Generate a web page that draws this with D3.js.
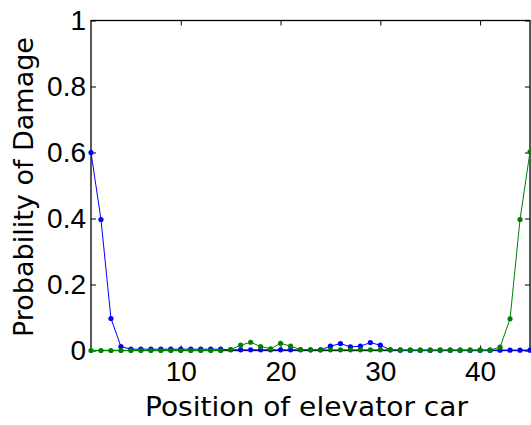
<!DOCTYPE html>
<html>
<head>
<meta charset="utf-8">
<script src="https://cdn.jsdelivr.net/npm/d3@7"></script>
<style>
  body { margin: 0; background: #fff; }
  svg text { font-family: "Liberation Sans", "DejaVu Sans", sans-serif; fill: #000; }
  svg text.label { font-family: "DejaVu Sans", sans-serif; }
</style>
</head>
<body>
<svg id="chart" width="531" height="425"></svg>
<script>
const positions = [1,2,3,4,5,6,7,8,9,10,11,12,13,14,15,16,17,18,19,20,21,22,23,
  24,25,26,27,28,29,30,31,32,33,34,35,36,37,38,39,40,41,42,43,44,45];

const blueVals = [0.600,0.397,0.097,0.012,0.004,0.004,0.004,0.004,0.004,0.004,
  0.004,0.004,0.004,0.004,0.002,0.002,0.002,0.002,0.002,0.002,0.002,0.002,0.002,
  0.002,0.013,0.021,0.011,0.013,0.024,0.016,0.002,0.001,0.001,0.001,0.001,0.001,
  0.001,0.001,0.001,0.001,0.001,0.001,0.001,0.001,0.001];

const greenVals = [0,0,0,0,0,0,0,0,0,0,0,0,0,0,0.003,0.016,0.025,0.012,0.005,
  0.022,0.013,0.003,0.002,0.002,0.002,0.002,0.002,0.002,0.002,0.002,0.002,0.002,
  0.001,0.001,0.001,0.001,0.001,0.001,0.001,0.001,0.001,0.010,0.096,0.397,0.602];

const xTicks = [10, 20, 30, 40];
const yTicks = [0, 0.2, 0.4, 0.6, 0.8, 1];

const margin = {top: 20.5, right: 1, bottom: 74.5, left: 91};
const width = 531 - margin.left - margin.right;
const height = 425 - margin.top - margin.bottom;

const svg = d3.select('#chart');
const chart = svg.append('g')
  .attr('transform', `translate(${margin.left}, ${margin.top})`);

const xScale = d3.scaleLinear().domain([1, 45]).range([0, width]);
const yScale = d3.scaleLinear().domain([0, 1]).range([height, 0]);

// axes, matlab style: ticks point inward
chart.append('g')
  .attr('transform', `translate(0, ${height})`)
  .call(d3.axisBottom(xScale).tickValues(xTicks).tickSize(-5).tickPadding(11))
  .call(g => g.select('.domain').remove())
  .selectAll('text').style('font-size', '28px');

chart.append('g')
  .call(d3.axisTop(xScale).tickValues(xTicks).tickSize(-5).tickFormat(''))
  .call(g => g.select('.domain').remove());

chart.append('g')
  .call(d3.axisLeft(yScale).tickValues(yTicks).tickSize(-5).tickPadding(5)
    .tickFormat(d3.format('~g')))
  .call(g => g.select('.domain').remove())
  .selectAll('text').style('font-size', '28px');

chart.append('g')
  .attr('transform', `translate(${width}, 0)`)
  .call(d3.axisRight(yScale).tickValues(yTicks).tickSize(-5).tickFormat(''))
  .call(g => g.select('.domain').remove());

chart.selectAll('.tick line').attr('stroke', '#000');

chart.append('rect')
  .attr('width', width)
  .attr('height', height)
  .attr('fill', 'none')
  .attr('stroke', '#000')
  .attr('stroke-width', 1.3);

const series = [
  {color: '#0000ff', vals: blueVals},
  {color: '#008000', vals: greenVals}
];

const line = d3.line()
  .x(d => xScale(d[0]))
  .y(d => yScale(d[1]));

series.forEach(s => {
  const pts = positions.map((p, i) => [p, s.vals[i]]);
  chart.append('path')
    .datum(pts)
    .attr('fill', 'none')
    .attr('stroke', s.color)
    .attr('stroke-width', 1)
    .attr('d', line);
  chart.append('g')
    .selectAll('circle')
    .data(pts)
    .join('circle')
      .attr('cx', d => xScale(d[0]))
      .attr('cy', d => yScale(d[1]))
      .attr('r', 2.6)
      .attr('fill', s.color);
});

svg.append('text')
  .attr('class', 'label')
  .attr('x', 306.5)
  .attr('y', 416)
  .attr('text-anchor', 'middle')
  .attr('textLength', 323)
  .attr('lengthAdjust', 'spacingAndGlyphs')
  .style('font-size', '27px')
  .text('Position of elevator car');

svg.append('text')
  .attr('class', 'label')
  .attr('transform', `translate(33, 187) rotate(-90)`)
  .attr('text-anchor', 'middle')
  .attr('textLength', 300)
  .attr('lengthAdjust', 'spacingAndGlyphs')
  .style('font-size', '27px')
  .text('Probability of Damage');
</script>
</body>
</html>
